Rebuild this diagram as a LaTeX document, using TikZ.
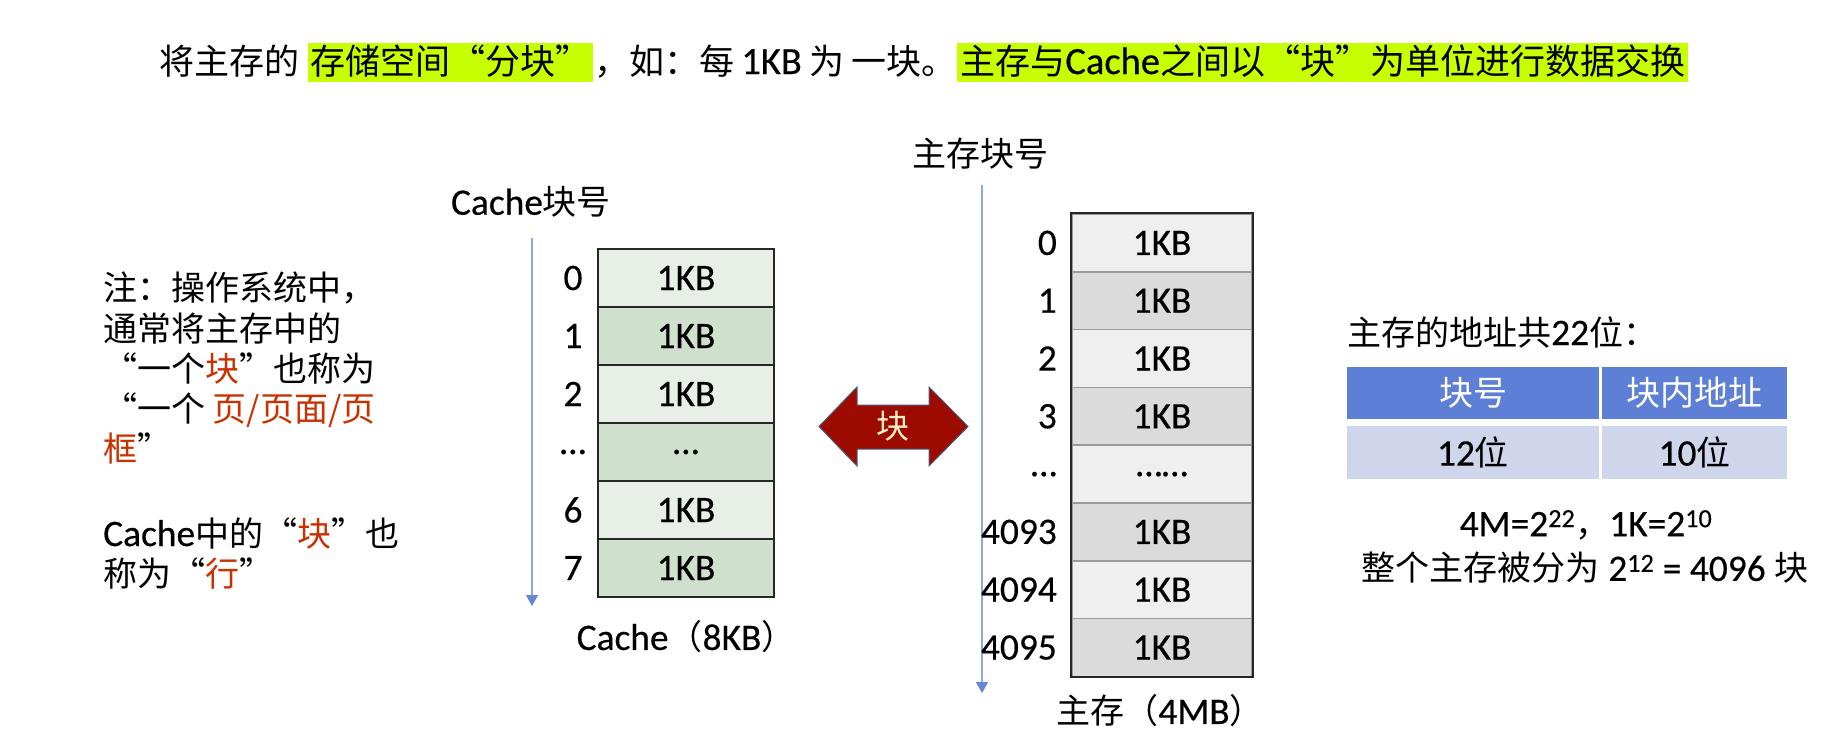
\documentclass[tikz,border=0pt]{standalone}
\usepackage{fontspec}
\setmainfont{Carlito}[Scale=1.1,FakeBold=0.4]
\newfontfamily\cjk{Noto Sans CJK SC}
\newcommand\zh[1]{{\cjk #1}}
\usetikzlibrary{arrows.meta}
\definecolor{hlc}{HTML}{C8FF00}
\definecolor{redt}{HTML}{C83200}
\definecolor{cacheL}{HTML}{E8EFE6}
\definecolor{cacheD}{HTML}{CFE0CD}
\definecolor{memL}{HTML}{EFEFEF}
\definecolor{memD}{HTML}{DBDBDB}
\definecolor{axisc}{HTML}{8FA8E0}
\definecolor{axish}{HTML}{6686D6}
\definecolor{arrfill}{HTML}{9C0A00}
\definecolor{arrdraw}{HTML}{4D5B7E}
\definecolor{cream}{HTML}{FFEFC8}
\definecolor{thead}{HTML}{5D80D6}
\definecolor{trow}{HTML}{CFD5EA}
\newcommand\rd[1]{\textcolor{redt}{#1}}
\tikzset{
  txt/.style={inner sep=0pt, font=\fontsize{34pt}{40pt}\selectfont},
  ttl/.style={inner sep=0pt, font=\fontsize{35pt}{40pt}\selectfont, anchor=base west},
  hlbox/.style={ttl, fill=hlc, text height=31pt, text depth=8pt},
  note/.style={txt, anchor=base west},
  ccell/.style={txt, draw=black!85, line width=2pt, minimum width=176pt, minimum height=58pt},
  mcell/.style={txt, draw=black!40, line width=1.5pt, minimum width=180pt, minimum height=57.8pt},
  axis/.style={axisc, line width=1.3pt, -{Triangle[width=12pt,length=11pt,color=axish]}},
  thd/.style={txt, fill=thead, text=white, minimum height=52pt},
  trw/.style={txt, fill=trow, minimum height=53pt},
}
\begin{document}
\begin{tikzpicture}[x=1pt,y=-1pt]
\useasboundingbox (0,0) rectangle (1842,748);
% title
\node[ttl] (t1) at (159,74) {\zh{将主存的}};
\node[hlbox, minimum width=285pt] (t2) at (308,74) {\zh{存储空间“分块”}};
\node[ttl, text width=362pt] (t3) at (594,74) {\zh{，如：每}\hfill 1KB\hfill\zh{为}\hfill\zh{一块。}};
\node[hlbox, minimum width=731pt] (t4) at (957,74) {\zh{主存与}Cache\zh{之间以“块”为单位进行数据交换}};
% left note
\node[note] (n1) at (103,300) {\zh{注：操作系统中，}};
\node[note] (n2) at (103,341) {\zh{通常将主存中的}};
\node[note] (n3) at (103,381) {\zh{“一个\rd{块}”也称为}};
\node[note] (n4) at (103,421) {\zh{“一个 \rd{页/页面/页}}};
\node[note] (n5) at (103,461) {\zh{\rd{框}”}};
\node[note] (n6) at (103,546) {Cache\zh{中的“\rd{块}”也}};
\node[note] (n7) at (103,586) {\zh{称为“\rd{行}”}};
% cache
\node[txt] (clbl) at (531,202) {Cache\zh{块号}};
\coordinate (ca1) at (532,238);
\coordinate (ca2) at (532,606);
\draw[axis] (ca1) -- (ca2);
\node[ccell, fill=cacheL] (c0) at (686,278) {1KB};
\node[ccell, fill=cacheD] (c1) at (686,336) {1KB};
\node[ccell, fill=cacheL] (c2) at (686,394) {1KB};
\node[ccell, fill=cacheD] (c3) at (686,452) {…};
\node[ccell, fill=cacheL] (c4) at (686,510) {1KB};
\node[ccell, fill=cacheD] (c5) at (686,568) {1KB};
\node[txt] (cl0) at (573,278) {0};
\node[txt] (cl1) at (573,336) {1};
\node[txt] (cl2) at (573,394) {2};
\node[txt] (cl3) at (573,452) {…};
\node[txt] (cl4) at (573,510) {6};
\node[txt] (cl5) at (573,568) {7};
\node[txt] (ccap) at (686,637) {Cache\zh{（}8KB\zh{）}};
% double arrow
\draw[fill=arrfill, draw=arrdraw, line width=1pt] (819,426.5) -- (857,387) -- (857,405) -- (929,405) -- (929,387) -- (968,426.5) -- (929,466) -- (929,449) -- (857,449) -- (857,466) -- cycle;
\node[txt, text=cream, font=\fontsize{33pt}{38pt}\selectfont] (blk) at (893,426.5) {\zh{块}};
% main memory
\node[txt] (mlbl) at (980,154) {\zh{主存块号}};
\coordinate (ma1) at (982,185);
\coordinate (ma2) at (982,693);
\draw[axis] (ma1) -- (ma2);
\node[mcell, fill=memL] (m0) at (1162,242.9) {1KB};
\node[mcell, fill=memD] (m1) at (1162,300.7) {1KB};
\node[mcell, fill=memL] (m2) at (1162,358.5) {1KB};
\node[mcell, fill=memD] (m3) at (1162,416.3) {1KB};
\node[mcell, fill=memL] (m4) at (1162,474.1) {……};
\node[mcell, fill=memD] (m5) at (1162,531.9) {1KB};
\node[mcell, fill=memL] (m6) at (1162,589.7) {1KB};
\node[mcell, fill=memD] (m7) at (1162,647.5) {1KB};
\draw[black!85, line width=2pt] (m0.north west) rectangle (m7.south east);
\node[txt, anchor=east] (ml0) at (1057,242.9) {0};
\node[txt, anchor=east] (ml1) at (1057,300.7) {1};
\node[txt, anchor=east] (ml2) at (1057,358.5) {2};
\node[txt, anchor=east] (ml3) at (1057,416.3) {3};
\node[txt, anchor=east] (ml4) at (1057,474.1) {…};
\node[txt, anchor=east] (ml5) at (1057,531.9) {4093};
\node[txt, anchor=east] (ml6) at (1057,589.7) {4094};
\node[txt, anchor=east] (ml7) at (1057,647.5) {4095};
\node[txt] (mcap) at (1160,711) {\zh{主存（}4MB\zh{）}};
% right side
\node[txt, anchor=west] (addr) at (1347,332) {\zh{主存的地址共}22\zh{位：}};
\node[thd, minimum width=252pt] (h1) at (1473,393) {\zh{块号}};
\node[thd, minimum width=185pt] (h2) at (1694.5,393) {\zh{块内地址}};
\node[trw, minimum width=252pt] (r1) at (1473,452.5) {12\zh{位}};
\node[trw, minimum width=185pt] (r2) at (1694.5,452.5) {10\zh{位}};
\node[txt] (eq1) at (1586,525) {4M=2\textsuperscript{22}\zh{，}1K=2\textsuperscript{10}};
\node[txt] (eq2) at (1585,568) {\zh{整个主存被分为} 2\textsuperscript{12} = 4096 \zh{块}};
\end{tikzpicture}
\end{document}
